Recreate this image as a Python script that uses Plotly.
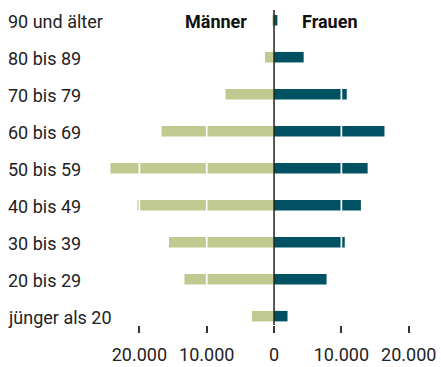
import plotly.graph_objects as go

# Altersgruppen, von unten nach oben
age_groups = ["jünger als 20", "20 bis 29", "30 bis 39", "40 bis 49", "50 bis 59",
              "60 bis 69", "70 bis 79", "80 bis 89", "90 und älter"]
maenner = [3300, 13300, 15600, 20300, 24300, 16700, 7200, 1350, 250]
frauen = [2000, 7800, 10500, 12900, 13900, 16400, 10800, 4400, 500]

tick_values = [-20000, -10000, 0, 10000, 20000]
tick_labels = [f"{abs(v):,}".replace(",", ".") for v in tick_values]

FONT = "Roboto"
TEXT = "#222222"
GREEN = "#c0c98f"
TEAL = "#005263"

idx = list(range(len(age_groups)))

fig = go.Figure()
fig.add_trace(go.Bar(
    y=idx, x=[-v for v in maenner], orientation="h", name="Männer",
    marker=dict(color=GREEN, line=dict(width=0)), width=0.284,
))
fig.add_trace(go.Bar(
    y=idx, x=frauen, orientation="h", name="Frauen",
    marker=dict(color=TEAL, line=dict(width=0)), width=0.284,
))

# white grid lines cut through the bars at every non-zero tick
shapes = [
    dict(type="line", xref="x", yref="paper", x0=v, x1=v, y0=0, y1=1,
         line=dict(color="white", width=1.7), layer="above")
    for v in tick_values if v != 0
]
# zero axis on top of everything
shapes.append(dict(type="line", xref="x", yref="paper", x0=0, x1=0, y0=0, y1=1,
                   line=dict(color="#222222", width=1.5), layer="above"))

annotations = []
for i, label in zip(idx, age_groups):
    annotations.append(dict(
        x=-93 / 340, xref="paper", y=i, yref="y", text=label,
        xanchor="left", yanchor="middle", yshift=-1, showarrow=False,
        font=dict(family=FONT, size=18, color=TEXT),
    ))
top = idx[-1]
annotations.append(dict(x=0, y=top, xref="x", yref="y", text="<b>Männer</b>",
                        xanchor="right", yanchor="middle", xshift=-25, yshift=-1,
                        showarrow=False,
                        font=dict(family=FONT, size=18, color="#111111")))
annotations.append(dict(x=0, y=top, xref="x", yref="y", text="<b>Frauen</b>",
                        xanchor="left", yanchor="middle", xshift=26, yshift=-1,
                        showarrow=False,
                        font=dict(family=FONT, size=18, color="#111111")))

fig.update_layout(
    width=441, height=367,
    margin=dict(l=99, r=2, t=10, b=36),
    paper_bgcolor="white", plot_bgcolor="white",
    barmode="overlay", showlegend=False,
    annotations=annotations, shapes=shapes,
    xaxis=dict(
        range=[-26000, 24500], tickvals=tick_values, ticktext=tick_labels,
        ticks="outside", ticklen=7, tickwidth=1.5, tickcolor="#333333",
        showgrid=False, zeroline=False, showline=False, fixedrange=True,
        tickfont=dict(family=FONT, size=18, color=TEXT),
        ticklabelstandoff=6,
    ),
    yaxis=dict(
        range=[-0.239, 8.276], showticklabels=False, showgrid=False,
        zeroline=False, showline=False, ticks="", fixedrange=True,
    ),
)

fig.write_html("out.html")
